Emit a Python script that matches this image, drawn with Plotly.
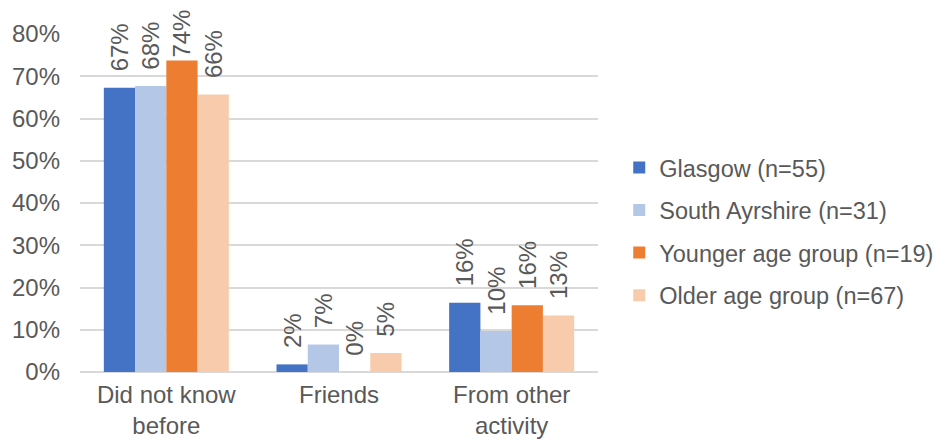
import plotly.graph_objects as go

categories = ["Did not know<br>before", "Friends", "From other<br>activity"]
series_names = [
    "Glasgow (n=55)",
    "South Ayrshire (n=31)",
    "Younger age group (n=19)",
    "Older age group (n=67)",
]
# share of respondents (%) per category, one list per group
glasgow = [67.3, 1.8, 16.4]
south_ayrshire = [67.7, 6.5, 9.7]
younger = [73.7, 0.0, 15.8]
older = [65.7, 4.5, 13.4]
series_values = [glasgow, south_ayrshire, younger, older]
colors = ["#4472C4", "#B4C7E7", "#ED7D31", "#F8CBAD"]

y_ticks = [0, 10, 20, 30, 40, 50, 60, 70, 80]
y_tick_labels = [f"{v}%" for v in y_ticks]

FONT = "Liberation Sans, Arial, sans-serif"
GREY = "#595959"
SIZE = 24

Y_MAX = 80
TOP_MARGIN = 34
PLOT_H = 439 - TOP_MARGIN - 67
PX_PER_UNIT = PLOT_H / Y_MAX
LABEL_LEN = 48      # approx. rotated label length in px
LABEL_GAP = 14      # extra gap between bar end and label, when there is room


def label(v):
    txt = f"{int(v + 0.5)}%"
    headroom = TOP_MARGIN + (Y_MAX - v) * PX_PER_UNIT
    if headroom >= LABEL_LEN + LABEL_GAP + 6:
        txt = "\u00a0\u00a0" + txt
    return txt


fig = go.Figure()
for name, vals, col in zip(series_names, series_values, colors):
    fig.add_trace(go.Bar(
        x=categories,
        y=vals,
        name=name,
        legendgroup=name,
        marker=dict(color=col, line=dict(width=0)),
        text=[label(v) for v in vals],
        textposition="outside",
        textangle=-90,
        constraintext="none",
        cliponaxis=False,
        textfont=dict(family=FONT, size=SIZE, color=GREY),
        hoverinfo="skip",
    ))

fig.update_layout(
    width=939,
    height=439,
    margin=dict(l=80, r=341, t=TOP_MARGIN, b=67, autoexpand=False),
    paper_bgcolor="white",
    plot_bgcolor="white",
    barmode="group",
    bargap=0.276,
    bargroupgap=0,
    font=dict(family=FONT, size=SIZE, color=GREY),
    showlegend=True,
    legend=dict(
        x=1.041,
        xanchor="left",
        y=0.415,
        yanchor="middle",
        traceorder="grouped",
        tracegroupgap=9,
        font=dict(family=FONT, size=23.5, color=GREY),
        bgcolor="rgba(0,0,0,0)",
    ),
    xaxis=dict(
        automargin=False,
        showgrid=False,
        showline=False,
        ticks="",
        ticklabelstandoff=6,
        tickfont=dict(family=FONT, size=SIZE, color=GREY),
    ),
    yaxis=dict(
        automargin=False,
        range=[0, Y_MAX],
        tickvals=y_ticks,
        ticktext=y_tick_labels,
        showgrid=True,
        gridcolor="#D9D9D9",
        gridwidth=1.5,
        zeroline=True,
        zerolinecolor="#D9D9D9",
        zerolinewidth=1.5,
        showline=False,
        ticks="",
        ticklabelstandoff=19,
        tickfont=dict(family=FONT, size=SIZE, color=GREY),
    ),
)

fig.write_html("out.html")
